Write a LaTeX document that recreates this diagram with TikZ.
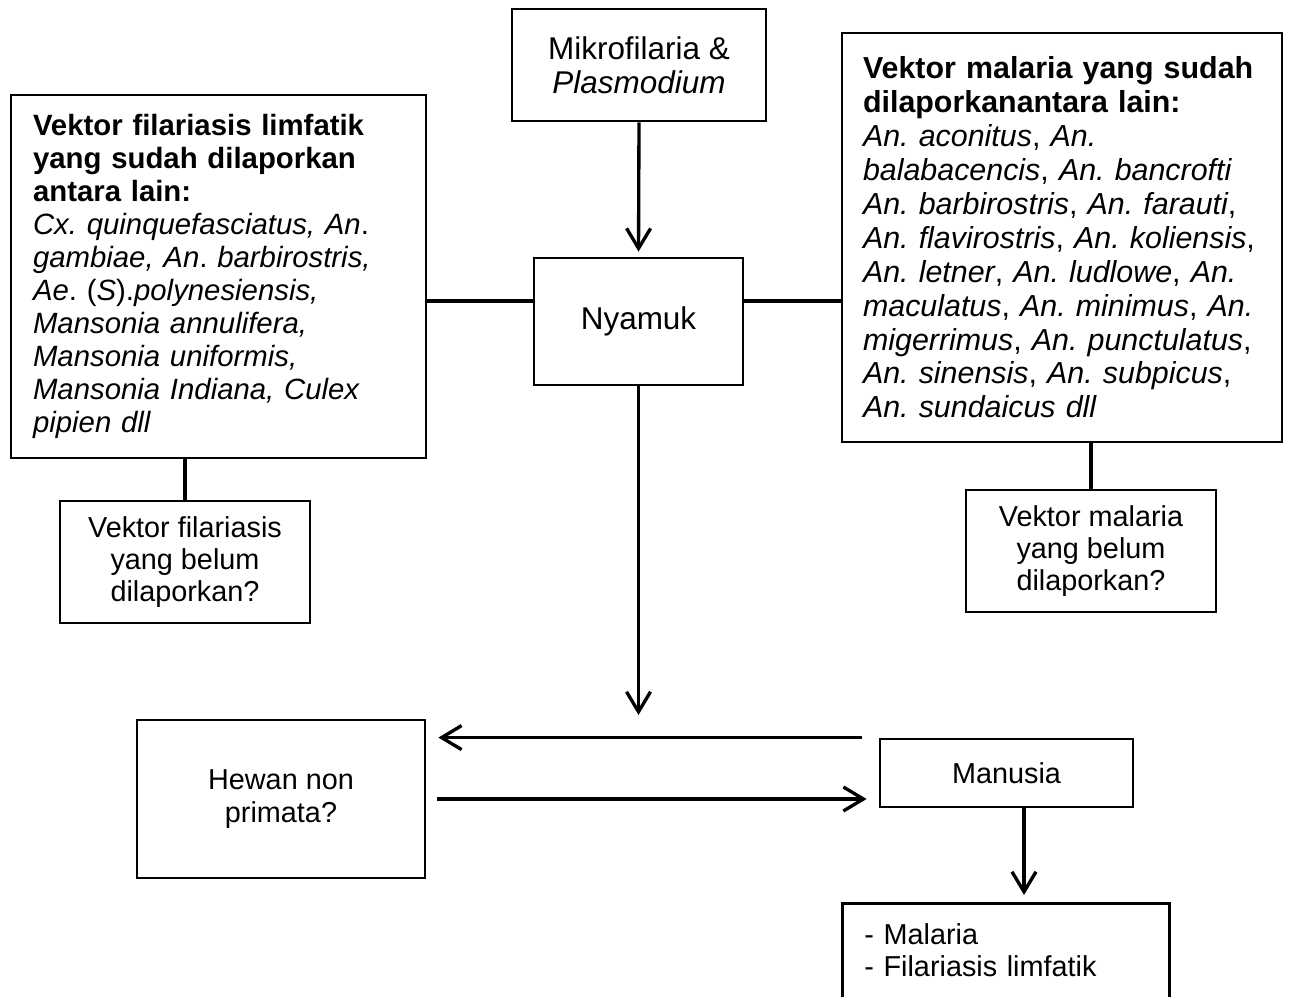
\documentclass[tikz,border=0pt]{standalone}
\usepackage{fontspec}
\setmainfont{Liberation Sans}
\usetikzlibrary{arrows.meta}
\frenchspacing
\hyphenpenalty=10000
\exhyphenpenalty=10000

\newcommand\umumfont{\fontsize{16.4}{18.4}\selectfont}
\newcommand\tengahfont{\fontsize{17.9}{19.6}\selectfont}
\newcommand\kirifont{\fontsize{16.7}{18.8}\selectfont}
\newcommand\kananfont{\fontsize{17.3}{19.3}\selectfont}

\begin{document}
\begin{tikzpicture}[x=0.02cm, y=-0.02cm,
  box/.style={draw, line width=1.6pt, inner sep=0pt, align=center, font=\umumfont},
  link/.style={line width=1.9pt},
  arr/.style={line width=1.9pt, -{Straight Barb[length=4mm,width=4.8mm]}}]
  \useasboundingbox (0,0) rectangle (1289,997);

  % -=-=-=-=- TOP: PARASITE AND MOSQUITO -=-=-=-=-
  \node[box, minimum width=5.08cm, minimum height=2.24cm, font=\tengahfont] (parasit) at (639,65) {Mikrofilaria \&\\\textit{Plasmodium}};
  \node[box, minimum width=4.18cm, minimum height=2.54cm, font=\tengahfont] (nyamuk) at (638.5,321.5) {Nyamuk};

  % -=-=-=-=- VECTOR LISTS -=-=-=-=-
  \node[box, minimum width=8.3cm, minimum height=7.26cm, text width=7.42cm, align=left, inner xsep=0.44cm, font=\kirifont] (filvektor) at (218.5,276.5) {%
    \textbf{Vektor filariasis limfatik}\\
    \textbf{yang sudah dilaporkan}\\
    \textbf{antara lain:}\\
    \textit{Cx. quinquefasciatus, An}.\\
    \textit{gambiae, An}. \textit{barbirostris,}\\
    \textit{Ae}. (\textit{S}).\textit{polynesiensis,}\\
    \textit{Mansonia annulifera,}\\
    \textit{Mansonia uniformis,}\\
    \textit{Mansonia Indiana, Culex}\\
    \textit{pipien dll}};
  \node[box, minimum width=8.8cm, minimum height=8.18cm, text width=7.96cm, align=left, inner xsep=0.42cm, font=\kananfont] (malvektor) at (1062,237.5) {%
    \textbf{Vektor malaria yang sudah}\\
    \textbf{dilaporkanantara lain:}\\
    \textit{An. aconitus}, \textit{An.}\\
    \textit{balabacencis}, \textit{An. bancrofti}\\
    \textit{An. barbirostris}, \textit{An. farauti},\\
    \textit{An. flavirostris}, \textit{An. koliensis},\\
    \textit{An. letner}, \textit{An. ludlowe}, \textit{An.}\\
    \textit{maculatus}, \textit{An. minimus}, \textit{An.}\\
    \textit{migerrimus}, \textit{An. punctulatus},\\
    \textit{An. sinensis}, \textit{An. subpicus},\\
    \textit{An. sundaicus dll}};

  \node[box, minimum width=5cm, minimum height=2.44cm] (filbelum) at (185,562) {Vektor filariasis\\yang belum\\dilaporkan?};
  \node[box, minimum width=5cm, minimum height=2.44cm] (malbelum) at (1091,551) {Vektor malaria\\yang belum\\dilaporkan?};

  % -=-=-=-=- HOSTS AND DISEASES -=-=-=-=-
  \node[box, minimum width=5.76cm, minimum height=3.16cm] (hewan) at (281,799) {Hewan non\\primata?};
  \node[box, minimum width=5.06cm, minimum height=1.36cm] (manusia) at (1006.5,773) {Manusia};
  \node[box, anchor=north west, text width=5.66cm, align=left, inner xsep=0.44cm, inner ysep=0.4cm, text height=0.42cm, text depth=1.34cm] (penyakit) at (841,902) {- Malaria\\- Filariasis limfatik};
  \coordinate (turun) at (638.5,715);

  % -=-=-=-=- CONNECTORS -=-=-=-=-
  \draw[arr, shorten >=1mm] (parasit.south) -- (nyamuk.north);
  \draw[link] ([yshift=0.41cm]nyamuk.west) -- ([yshift=0.41cm]nyamuk.west -| filvektor.east);
  \draw[link] ([yshift=0.41cm]nyamuk.east) -- ([yshift=0.41cm]nyamuk.east -| malvektor.west);
  \draw[link] (filvektor.south -| filbelum.north) -- (filbelum.north);
  \draw[link] (malvektor.south -| malbelum.north) -- (malbelum.north);
  \draw[arr] (nyamuk.south) -- (turun);
  \draw[arr, shorten <=0.34cm, shorten >=0.24cm] (manusia.north west) -- (manusia.north west -| hewan.east);
  \draw[arr, shorten <=0.22cm, shorten >=0.24cm] (hewan.east) -- (hewan.east -| manusia.west);
  \draw[arr, shorten >=0.14cm] ([xshift=0.35cm]manusia.south) -- ([xshift=0.35cm]manusia.south |- penyakit.north);
\end{tikzpicture}
\end{document}
